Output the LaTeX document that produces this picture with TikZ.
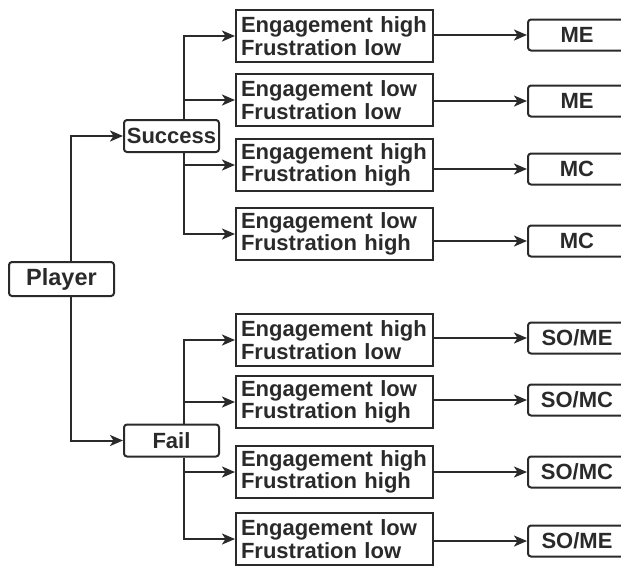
\documentclass[tikz,border=0pt]{standalone}
\usepackage{fontspec}
\setmainfont{Liberation Sans}
\usetikzlibrary{arrows.meta,positioning}
\definecolor{ink}{HTML}{2A2A2A}

\begin{document}
\begin{tikzpicture}[x=1pt, y=-1pt, line width=2pt, draw=ink, text=ink,
	>={Stealth[length=13pt, width=11pt, inset=3.5pt]},
	txt/.style   = {font=\fontsize{22pt}{22.5pt}\selectfont\bfseries},
	rootbox/.style = {draw, txt, rounded corners=3pt, inner sep=0pt, minimum width=95pt, minimum height=32pt},
	statebox/.style = {draw, txt, align=left, text width=187pt, inner xsep=5pt, inner ysep=0pt, minimum height=52pt},
	modebox/.style = {draw, txt, rounded corners=3pt, inner sep=0pt, minimum width=98pt, minimum height=31pt}]
\useasboundingbox (0,0) rectangle (621,566);

\node[rootbox, minimum width=105pt, minimum height=34pt, font=\fontsize{23.5pt}{24pt}\selectfont\bfseries]
                         at (61.5,279)   (player) {Player};
\node[rootbox]           at (171.5,136)  (succ)   {Success};
\node[rootbox]           at (171.5,440.5)(fail)   {Fail};
\coordinate              (px) at (71,279);
\coordinate              (sx) at (184,279);

% success side
\node[statebox]          at (334.5,36)   (s1)  {Engagement high\\Frustration low};
\node[statebox]          at (334.5,100)  (s2)  {Engagement low\\Frustration low};
\node[statebox]          at (334.5,165)  (s3)  {Engagement high\\Frustration high};
\node[statebox]          at (334.5,234)  (s4)  {Engagement low\\Frustration high};
\node[modebox]           at (577,35)     (rs1) {ME};
\node[modebox]           at (577,101)    (rs2) {ME};
\node[modebox]           at (577,169)    (rs3) {MC};
\node[modebox]           at (577,241)    (rs4) {MC};

% fail side
\node[statebox]          at (334.5,340)  (f1)  {Engagement high\\Frustration low};
\node[statebox]          at (334.5,402)  (f2)  {Engagement low\\Frustration high};
\node[statebox]          at (334.5,472)  (f3)  {Engagement high\\Frustration high};
\node[statebox]          at (334.5,539)  (f4)  {Engagement low\\Frustration low};
\node[modebox]           at (577,338)    (rf1) {SO/ME};
\node[modebox]           at (577,400)    (rf2) {SO/MC};
\node[modebox]           at (577,472)    (rf3) {SO/MC};
\node[modebox]           at (577,541)    (rf4) {SO/ME};

\draw[->] (player.north-|px) |- (succ);
\draw[->] (player.south-|px) |- (fail);

\draw[->] (succ.north-|sx) |- (s1);
\draw[->] (succ.north-|sx) |- (s2);
\draw[->] (succ.south-|sx) |- (s3);
\draw[->] (succ.south-|sx) |- (s4);
\draw[->] (fail.north-|sx) |- (f1);
\draw[->] (fail.north-|sx) |- (f2);
\draw[->] (fail.south-|sx) |- (f3);
\draw[->] (fail.south-|sx) |- (f4);

\draw[->] (s1.east|-rs1) -- (rs1);
\draw[->] (s2.east|-rs2) -- (rs2);
\draw[->] (s3.east|-rs3) -- (rs3);
\draw[->] (s4.east|-rs4) -- (rs4);
\draw[->] (f1.east|-rf1) -- (rf1);
\draw[->] (f2.east|-rf2) -- (rf2);
\draw[->] (f3.east|-rf3) -- (rf3);
\draw[->] (f4.east|-rf4) -- (rf4);
\end{tikzpicture}
\end{document}
